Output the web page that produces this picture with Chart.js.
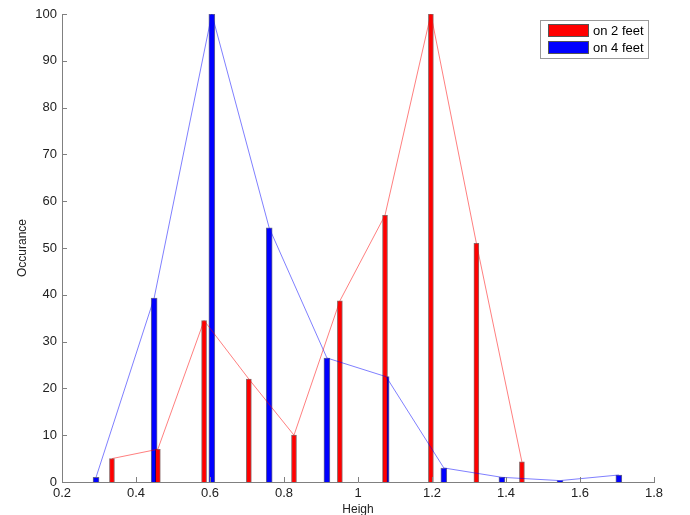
<!DOCTYPE html>
<html lang="en">
  <head>
    <title>Occurance vs Heigh</title>
    <meta charset="utf-8" />
    <script src="https://cdn.jsdelivr.net/npm/chart.js@4.4.1/dist/chart.umd.min.js"></script>
    <style>
      html, body { margin: 0; padding: 0; background: #fff; }
      #wrap { width: 690px; height: 515px; }
    </style>
  </head>
  <body>
    <div id="wrap"><canvas id="chart" width="690" height="515"></canvas></div>

    <script>
      // values
      var redX = [0.335, 0.459, 0.584, 0.705, 0.827, 0.951, 1.073, 1.197, 1.32, 1.443];
      var redY = [5, 7, 34.5, 22, 10, 38.7, 57, 100, 51, 4.3];
      var blueX = [0.292, 0.449, 0.605, 0.76, 0.916, 1.076, 1.232, 1.389, 1.546, 1.705];
      var blueY = [1, 39.3, 100, 54.3, 26.5, 22.5, 3, 1, 0.3, 1.5];
      var seriesNames = ["on 2 feet", "on 4 feet"];

      var FONT = "'Liberation Sans', Arial, sans-serif";
      var axisGray = "#808080";

      function pts(xs, ys) {
        return xs.map(function (x, i) { return { x: x, y: ys[i] }; });
      }

      // inward tick marks + boxed legend, matlab style
      var extras = {
        id: "extras",
        afterDraw: function (chart) {
          var ctx = chart.ctx;
          var xs = chart.scales.x, ys = chart.scales.y;
          var area = chart.chartArea;
          ctx.save();
          ctx.strokeStyle = axisGray;
          ctx.lineWidth = 1;
          ctx.beginPath();
          xs.ticks.forEach(function (t) {
            var px = Math.round(xs.getPixelForValue(t.value)) + 0.5;
            ctx.moveTo(px, area.bottom);
            ctx.lineTo(px, area.bottom - 5);
          });
          ys.ticks.forEach(function (t) {
            var py = Math.round(ys.getPixelForValue(t.value)) + 0.5;
            ctx.moveTo(area.left, py);
            ctx.lineTo(area.left + 5, py);
          });
          ctx.stroke();

          // legend
          ctx.fillStyle = "#fff";
          ctx.fillRect(540.5, 20.5, 108, 38);
          ctx.strokeStyle = "#999";
          ctx.strokeRect(540.5, 20.5, 108, 38);
          var cols = ["#ff0000", "#0000ff"];
          ctx.font = "13px " + FONT;
          ctx.textBaseline = "middle";
          for (var i = 0; i < 2; i++) {
            var y = 24 + i * 17;
            ctx.fillStyle = cols[i];
            ctx.fillRect(548.5, y + 0.5, 40, 12);
            ctx.strokeStyle = "#555";
            ctx.strokeRect(548.5, y + 0.5, 40, 12);
            ctx.fillStyle = "#000";
            ctx.fillText(seriesNames[i], 593, y + 7);
          }
          ctx.restore();
        },
      };

      new Chart(document.getElementById("chart"), {
        type: "bar",
        data: {
          datasets: [
            {
              type: "line",
              data: pts(redX, redY),
              borderColor: "rgba(255,0,0,0.5)",
              borderWidth: 1,
              pointRadius: 0,
              tension: 0,
              order: 0,
            },
            {
              type: "line",
              data: pts(blueX, blueY),
              borderColor: "rgba(0,0,255,0.5)",
              borderWidth: 1,
              pointRadius: 0,
              tension: 0,
              order: 0,
            },
            {
              label: seriesNames[0],
              data: pts(redX, redY),
              backgroundColor: "#ff0000",
              borderColor: "rgba(60,0,0,0.6)",
              borderWidth: 1,
              barThickness: 5,
              grouped: false,
              order: 1,
            },
            {
              label: seriesNames[1],
              data: pts(blueX, blueY),
              backgroundColor: "#0000ff",
              borderColor: "rgba(0,0,60,0.6)",
              borderWidth: 1,
              barThickness: 6,
              grouped: false,
              order: 1,
            },
          ],
        },
        options: {
          responsive: false,
          animation: false,
          layout: { padding: { top: 14, right: 36, left: 0, bottom: 0 } },
          plugins: { legend: { display: false }, tooltip: { enabled: false } },
          scales: {
            x: {
              type: "linear",
              min: 0.2,
              max: 1.8,
              offset: false,
              grid: { display: false, drawTicks: false },
              border: { display: true, color: axisGray, width: 1 },
              ticks: {
                stepSize: 0.2,
                color: "#222",
                font: { family: FONT, size: 13 },
                padding: 4,
                callback: function (v) { return String(Math.round(v * 10) / 10); },
              },
              title: {
                display: true,
                text: "Heigh",
                color: "#222",
                font: { family: FONT, size: 12 },
                padding: { top: 0, bottom: -2 },
              },
              afterFit: function (s) { s.height = 33; },
            },
            y: {
              min: 0,
              max: 100,
              grid: { display: false, drawTicks: false },
              border: { display: true, color: axisGray, width: 1 },
              ticks: {
                stepSize: 10,
                color: "#222",
                font: { family: FONT, size: 13 },
                padding: 5,
              },
              title: {
                display: true,
                text: "Occurance",
                color: "#222",
                font: { family: FONT, size: 12 },
                padding: { top: 15, bottom: 15 },
              },
              afterFit: function (s) { s.width = 62; },
            },
          },
        },
        plugins: [extras],
      });
    </script>
  </body>
</html>
